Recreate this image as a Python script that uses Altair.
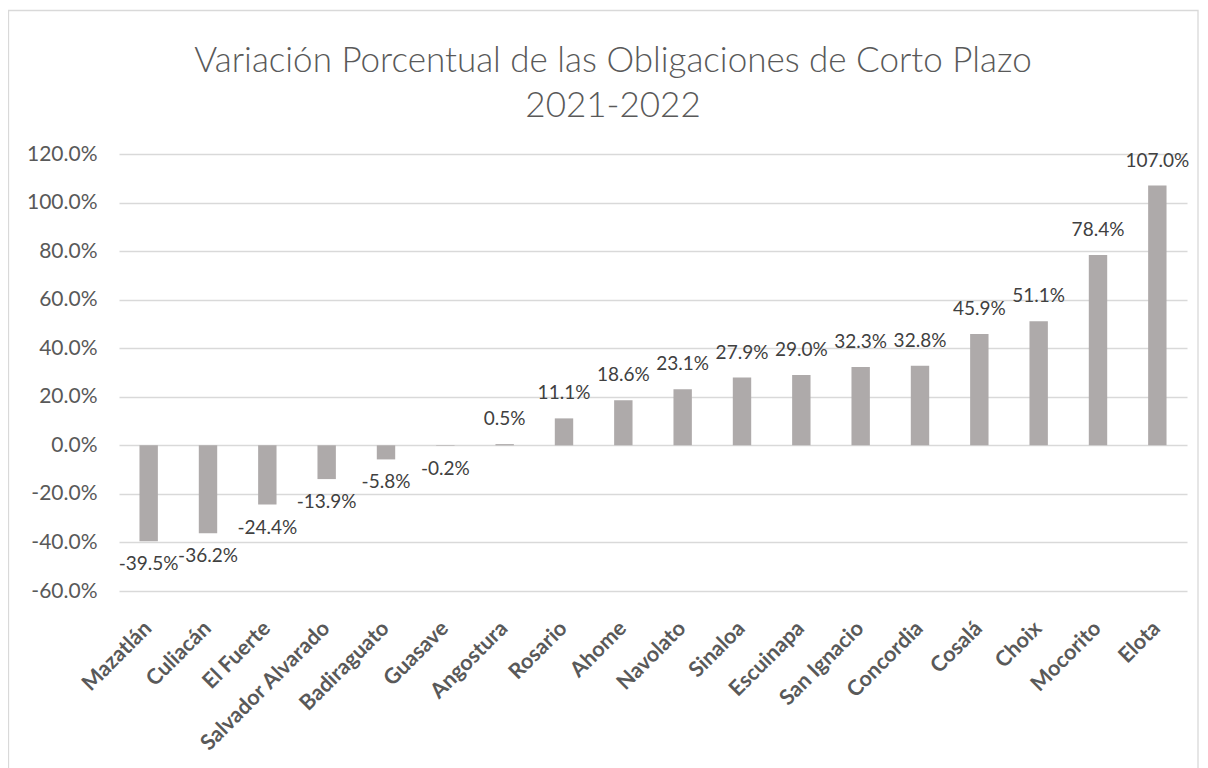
import altair as alt
import pandas as pd

municipios = ["Mazatlán", "Culiacán", "El Fuerte", "Salvador Alvarado", "Badiraguato",
              "Guasave", "Angostura", "Rosario", "Ahome", "Navolato", "Sinaloa",
              "Escuinapa", "San Ignacio", "Concordia", "Cosalá", "Choix", "Mocorito", "Elota"]
variacion_pct = [-39.5, -36.2, -24.4, -13.9, -5.8, -0.2, 0.5, 11.1, 18.6, 23.1, 27.9,
                 29.0, 32.3, 32.8, 45.9, 51.1, 78.4, 107.0]
y_ticks = [-0.6, -0.4, -0.2, 0.0, 0.2, 0.4, 0.6, 0.8, 1.0, 1.2]
title_lines = ["Variación Porcentual de las Obligaciones de Corto Plazo", "2021-2022"]

df = pd.DataFrame({"mun": municipios, "pct": variacion_pct})
df["v"] = df["pct"] / 100.0

FONT = "Lato"
W, H = 1068, 437

x_enc = alt.X("mun:N", sort=municipios, title=None,
              scale=alt.Scale(paddingInner=0.69, paddingOuter=0.345),
              axis=alt.Axis(labelAngle=-45, labelAlign="right", labelBaseline="middle",
                            labelPadding=34, labelFontSize=21.5, labelFontWeight="bold",
                            labelColor="#595959", labelFont=FONT, ticks=False,
                            domain=False, grid=False, labelOverlap=False))
y_scale = alt.Scale(domain=[-0.6, 1.2], nice=False, zero=False)

base = alt.Chart(df).transform_calculate(
    lbl="replace(format(datum.v, '.1%'), '\u2212', '-')"
)

bars = base.mark_bar(color="#AEAAAA").encode(
    x=x_enc,
    y=alt.Y("v:Q", scale=y_scale, title=None,
            axis=alt.Axis(values=y_ticks, labelExpr="replace(format(datum.value, '.1%'), '\u2212', '-')",
                          labelFontSize=21, labelColor="#595959", labelFont=FONT,
                          labelPadding=22, ticks=False, domain=False,
                          gridColor="#D9D9D9", gridWidth=1.3)),
    y2=alt.datum(0),
)

pos_lbl = base.transform_filter("datum.v >= 0").mark_text(
    baseline="alphabetic", dy=-19, fontSize=19, font=FONT, color="#404040"
).encode(x=alt.X("mun:N", sort=municipios), y=alt.Y("v:Q", scale=y_scale),
         text="lbl:N")

neg_lbl = base.transform_filter("datum.v < 0").mark_text(
    baseline="top", dy=14, fontSize=19, font=FONT, color="#404040"
).encode(x=alt.X("mun:N", sort=municipios), y=alt.Y("v:Q", scale=y_scale),
         text="lbl:N")

one = alt.Chart(pd.DataFrame({"t1": [title_lines[0]], "t2": [title_lines[1]]}))

frame = one.mark_rect(fill=None, stroke="#D9D9D9", strokeWidth=1.3).encode(
    x=alt.value(-110.5), x2=alt.value(W + 11), y=alt.value(-143.5), y2=alt.value(H + 200))

title1 = one.mark_text(fontSize=35, font=FONT, fontWeight=300, color="#595959",
                       align="center", baseline="alphabetic").encode(
    text="t1:N", x=alt.value(494), y=alt.value(-82))
title2 = one.mark_text(fontSize=35, font=FONT, fontWeight=300, color="#595959",
                       align="center", baseline="alphabetic").encode(
    text="t2:N", x=alt.value(494), y=alt.value(-37))

chart = alt.layer(frame, bars, pos_lbl, neg_lbl, title1, title2).properties(
    width=W, height=H,
    autosize=alt.AutoSizeParams(type="none"),
    padding={"left": 111, "top": 146, "right": 13, "bottom": 177},
).configure_view(stroke=None)

chart.save("out.html", embed_options={"renderer": "svg", "actions": False})
